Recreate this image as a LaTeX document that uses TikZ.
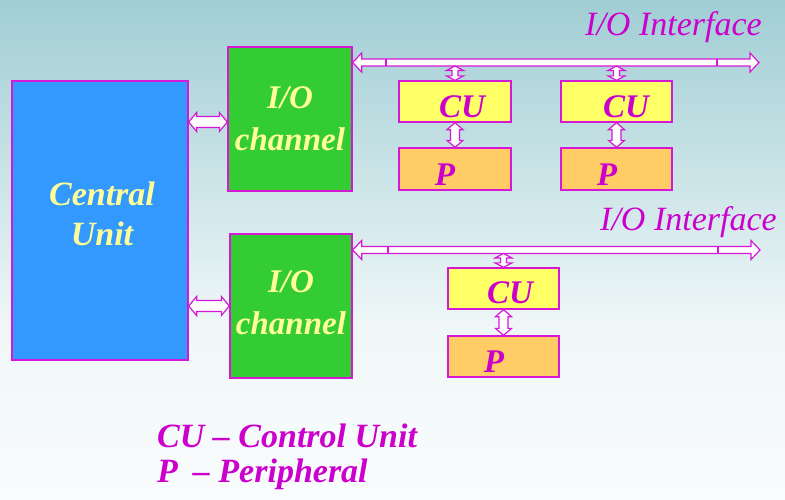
\documentclass[tikz,border=0pt]{standalone}
\usepackage{fontspec}
\setmainfont{Liberation Serif}
\usetikzlibrary{calc}
\definecolor{bordermag}{RGB}{214,24,214}
\definecolor{mtext}{RGB}{204,0,204}
\definecolor{ytext}{RGB}{255,255,153}
\definecolor{cufill}{RGB}{255,255,102}
\definecolor{pfill}{RGB}{255,204,102}
\definecolor{chgreen}{RGB}{51,204,51}
\definecolor{cublue}{RGB}{51,153,255}
\definecolor{bgtop}{RGB}{160,206,212}
\definecolor{bgmid}{RGB}{240,247,248}
\definecolor{bgbot}{RGB}{249,252,252}
\pgfdeclareverticalshading{bgshade}{100bp}{color(0bp)=(bgbot); color(25bp)=(bgbot); color(42bp)=(bgmid); color(75bp)=(bgtop); color(100bp)=(bgtop)}
\tikzset{
  box/.style={draw=bordermag, line width=1.3pt, inner sep=0pt, rectangle},
  blk/.style={draw=bordermag, fill=white, line width=1.2pt, line join=miter},
  magline/.style={draw=bordermag, line width=1.2pt},
  ylab/.style={text=ytext, font=\fontsize{33}{42}\selectfont\bfseries\itshape, align=center, inner sep=0pt, anchor=base},
  mlab/.style={text=mtext, font=\fontsize{33}{40}\selectfont\bfseries\itshape, inner sep=0pt, anchor=base},
  ilab/.style={text=mtext, font=\fontsize{34}{40}\selectfont\itshape, inner sep=0pt, anchor=base west},
  leglab/.style={text=mtext, font=\fontsize{34}{35}\selectfont\bfseries\itshape, inner sep=0pt, anchor=base west, align=left},
}
% horizontal double block arrow: #1 left point, #2 right point, #3 shaft half, #4 head half, #5 head length
\newcommand\hdbl[5]{%
  \draw[blk] let \p1=(#1), \p2=(#2) in
    (\x1,\y1) -- (\x1+#5pt,\y1+#4pt) -- (\x1+#5pt,\y1+#3pt) -- (\x2-#5pt,\y1+#3pt)
    -- (\x2-#5pt,\y1+#4pt) -- (\x2,\y1) -- (\x2-#5pt,\y1-#4pt) -- (\x2-#5pt,\y1-#3pt)
    -- (\x1+#5pt,\y1-#3pt) -- (\x1+#5pt,\y1-#4pt) -- cycle;}
% vertical double block arrow: #1 top point, #2 bottom point
\newcommand\vdbl[5]{%
  \draw[blk] let \p1=(#1), \p2=(#2) in
    (\x1,\y1) -- (\x1+#4pt,\y1-#5pt) -- (\x1+#3pt,\y1-#5pt) -- (\x1+#3pt,\y2+#5pt)
    -- (\x1+#4pt,\y2+#5pt) -- (\x1,\y2) -- (\x1-#4pt,\y2+#5pt) -- (\x1-#3pt,\y2+#5pt)
    -- (\x1-#3pt,\y1-#5pt) -- (\x1-#4pt,\y1-#5pt) -- cycle;}
\begin{document}
\begin{tikzpicture}[x=1pt,y=-1pt]
\useasboundingbox (0,0) rectangle (785,499);
\shade[shading=bgshade] (0,0) rectangle (785,499);

% boxes
\node[box, fill=cublue, minimum width=176pt, minimum height=279pt] (cu) at (100,220.5) {};
\node[box, fill=chgreen, minimum width=124pt, minimum height=144pt] (io1) at (290,119) {};
\node[box, fill=chgreen, minimum width=122pt, minimum height=144pt] (io2) at (291,306) {};
\node[box, fill=cufill, minimum width=112pt, minimum height=41pt] (cua) at (455,101.5) {};
\node[box, fill=pfill, minimum width=112pt, minimum height=42pt] (pa) at (455,169) {};
\node[box, fill=cufill, minimum width=111pt, minimum height=41pt] (cub) at (616.5,101.5) {};
\node[box, fill=pfill, minimum width=111pt, minimum height=42pt] (pb) at (616.5,169) {};
\node[box, fill=cufill, minimum width=111pt, minimum height=41pt] (cuc) at (503.5,288.5) {};
\node[box, fill=pfill, minimum width=111pt, minimum height=41pt] (pc) at (503.5,356.5) {};

% helper coordinates
\coordinate (a1) at (0,122);
\coordinate (b1r) at (759,62.5);
\coordinate (b1bot) at (0,66);
\coordinate (b2r) at (760,250);
\coordinate (b2bot) at (0,253.5);

% arrows central unit <-> channels
\hdbl{cu.east |- a1}{io1.west |- a1}{5.5}{9.5}{8}
\hdbl{cu.east |- io2}{io2.west}{5.5}{9.5}{8}

% buses
\hdbl{io1.east |- b1r}{b1r}{3.5}{9.5}{9}
\hdbl{io2.east |- b2r}{b2r}{3.5}{9.5}{9}
\draw[magline] (386,59) -- (386,66);
\draw[magline] (717,59) -- (717,66);
\draw[magline] (388,246.5) -- (388,253.5);
\draw[magline] (718,246.5) -- (718,253.5);

% bus -> CU
\vdbl{cua.north |- b1bot}{cua.north}{3}{8.5}{4.5}
\vdbl{cub.north |- b1bot}{cub.north}{3}{8.5}{4.5}
\vdbl{cuc.north |- b2bot}{cuc.north}{3}{8.5}{4.5}

% CU -> P
\vdbl{cua.south}{pa.north}{4.5}{8}{7}
\vdbl{cub.south}{pb.north}{4.5}{8}{7}
\vdbl{cuc.south}{pc.north}{4.5}{8}{7}

% texts (base anchor = baseline of last line)
\node[ylab, font=\fontsize{34}{40}\selectfont\bfseries\itshape] (tcu) at (102,245) {Central\\Unit};
\node[ylab] (tio1) at (290,150) {I/O\\channel};
\node[ylab] (tio2) at (291,334) {I/O\\channel};
\node[mlab] (tcua) at (462,117) {CU};
\node[mlab] (tcub) at (626,117) {CU};
\node[mlab] (tcuc) at (510,303) {CU};
\node[mlab] (tpa) at (445,185) {P};
\node[mlab] (tpb) at (607,185) {P};
\node[mlab] (tpc) at (494,372) {P};
\node[ilab] (if1) at (585,35) {I/O Interface};
\node[ilab] (if2) at (600,230) {I/O Interface};
\node[leglab] (leg1) at (157,447) {CU – Control Unit};
\node[leglab] (leg2) at (157,482) {P\hspace{15pt}– Peripheral};
\end{tikzpicture}
\end{document}
